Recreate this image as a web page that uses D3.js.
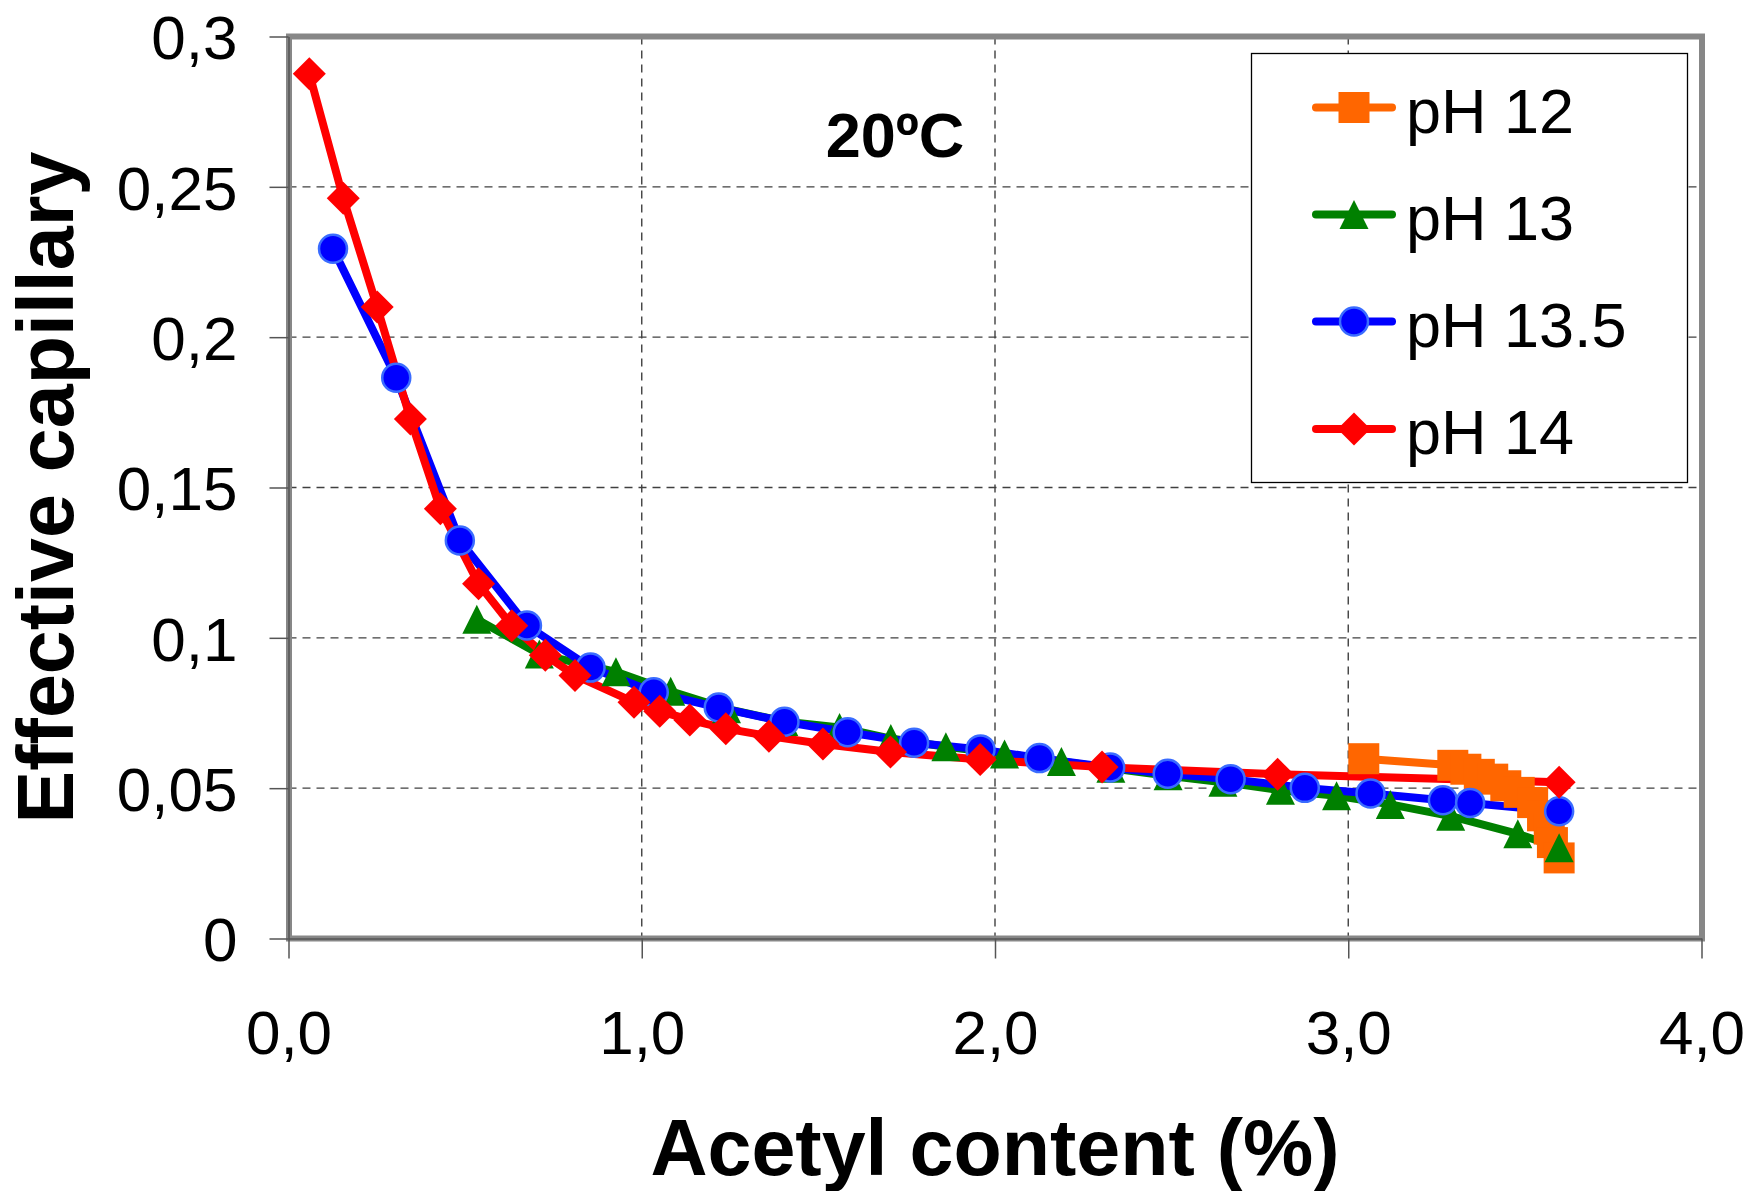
<!DOCTYPE html>
<html>
<head>
<meta charset="utf-8">
<script src="https://cdn.jsdelivr.net/npm/d3@7"></script>
<style>
  html, body { margin: 0; padding: 0; background: #fff; }
  svg { display: block; }
  text { font-family: "Liberation Sans", Arial, sans-serif; }
</style>
</head>
<body>
<svg id="chart" width="1752" height="1191"></svg>
<script>
// ---------------- data ----------------
const seriesNames = ["pH 12", "pH 13", "pH 13.5", "pH 14"];

const ph12X = [3.044, 3.296, 3.333, 3.371, 3.409, 3.446, 3.484, 3.522, 3.550, 3.569, 3.578, 3.597];
const ph12Y = [0.0598, 0.0576, 0.0563, 0.0546, 0.0530, 0.0508, 0.0486, 0.0452, 0.0408, 0.0364, 0.0319, 0.0268];

const ph13X = [0.533, 0.710, 0.927, 1.082, 1.240, 1.402, 1.560, 1.705, 1.861, 2.027, 2.188, 2.328, 2.490, 2.645, 2.808, 2.967, 3.119, 3.290, 3.480, 3.597];
const ph13Y = [0.1062, 0.0946, 0.0887, 0.0822, 0.0764, 0.0722, 0.0702, 0.0665, 0.0638, 0.0614, 0.0589, 0.0566, 0.0541, 0.0520, 0.0493, 0.0475, 0.0446, 0.0407, 0.0348, 0.0302];

const ph135X = [0.126, 0.305, 0.485, 0.675, 0.855, 1.034, 1.218, 1.404, 1.583, 1.771, 1.959, 2.126, 2.326, 2.489, 2.667, 2.877, 3.063, 3.268, 3.345, 3.597];
const ph135Y = [0.2294, 0.1865, 0.1324, 0.1041, 0.0901, 0.0819, 0.0768, 0.0721, 0.0686, 0.0651, 0.0629, 0.0600, 0.0569, 0.0548, 0.0530, 0.0501, 0.0482, 0.0460, 0.0451, 0.0423];

const ph14X = [0.059, 0.155, 0.251, 0.345, 0.430, 0.538, 0.632, 0.727, 0.811, 0.978, 1.051, 1.136, 1.238, 1.360, 1.513, 1.704, 1.958, 2.303, 2.800, 3.597];
const ph14Y = [0.2876, 0.2462, 0.2100, 0.1728, 0.1429, 0.1180, 0.1040, 0.0942, 0.0875, 0.0786, 0.0756, 0.0727, 0.0698, 0.0673, 0.0647, 0.0620, 0.0595, 0.0570, 0.0546, 0.0520];

const xTicks = [0, 1, 2, 3, 4];
const xTickLabels = ["0,0", "1,0", "2,0", "3,0", "4,0"];
const yTicks = [0, 0.05, 0.1, 0.15, 0.2, 0.25, 0.3];
const yTickLabels = ["0", "0,05", "0,1", "0,15", "0,2", "0,25", "0,3"];

const xTitle = "Acetyl content (%)";
const yTitle = "Effective capillary";
const annotation = "20ºC";

// ---------------- layout / style ----------------
const L = 288.5, R = 1701.5, T = 36.5, B = 938.5;
const colors = ["#ff6600", "#008000", "#0000ff", "#ff0000"];
const shapes = ["square", "triangle", "circle", "diamond"];
const FONT = '"Liberation Sans", Arial, sans-serif';

const series = seriesNames.map((name, i) => {
  const xs = [ph12X, ph13X, ph135X, ph14X][i];
  const ys = [ph12Y, ph13Y, ph135Y, ph14Y][i];
  return { name, color: colors[i], shape: shapes[i], points: xs.map((x, j) => ({ x, y: ys[j] })) };
});

const svg = d3.select("#chart");
svg.append("rect").attr("width", 1752).attr("height", 1191).attr("fill", "#fff");

const x = d3.scaleLinear().domain([0, 4]).range([L, R]);
const y = d3.scaleLinear().domain([0, 0.3]).range([B, T]);

// gridlines
const grid = svg.append("g");
grid.selectAll("line.h").data(yTicks.filter(v => v > 0 && v < 0.3)).join("line")
  .attr("x1", L).attr("x2", R).attr("y1", d => y(d)).attr("y2", d => y(d))
  .attr("stroke", "#404040").attr("stroke-width", 1.4).attr("stroke-dasharray", "8,6");
grid.selectAll("line.v").data(xTicks.filter(v => v > 0 && v < 4)).join("line")
  .attr("y1", T).attr("y2", B).attr("x1", d => x(d)).attr("x2", d => x(d))
  .attr("stroke", "#404040").attr("stroke-width", 1.4).attr("stroke-dasharray", "8,6");

// plot border
svg.append("rect").attr("x", L + 0.5).attr("y", T).attr("width", R - L).attr("height", B - T)
  .attr("fill", "none").attr("stroke", "#878787").attr("stroke-width", 6);

// axes
const yAxis = d3.axisLeft(y).tickValues(yTicks).tickFormat((d, i) => yTickLabels[i])
  .tickSize(19).tickSizeOuter(0).tickPadding(32);
const gy = svg.append("g").attr("transform", `translate(${L},0)`).call(yAxis);
const xAxis = d3.axisBottom(x).tickValues(xTicks).tickFormat((d, i) => xTickLabels[i])
  .tickSize(20).tickSizeOuter(0).tickPadding(51);
const gx = svg.append("g").attr("transform", `translate(0,${B})`).call(xAxis);
[gx, gy].forEach(g => {
  g.select(".domain").attr("stroke", "#555").attr("stroke-width", 1.5);
  g.selectAll(".tick line").attr("stroke", "#555").attr("stroke-width", 1.5);
  g.selectAll(".tick text").attr("font-family", FONT).attr("font-size", 62).attr("fill", "#000");
});
gy.selectAll(".tick text").attr("dy", "0.36em");

// marker path generator
function markerPath(shape) {
  if (shape === "square") { const h = 15.5; return `M${-h},${-h}H${h}V${h}H${-h}Z`; }
  if (shape === "triangle") { const w = 14.5, h = 14.5; return `M0,${-h}L${w},${h}L${-w},${h}Z`; }
  if (shape === "diamond") { const h = 16.5; return `M0,${-h}L${h},0L0,${h}L${-h},0Z`; }
  return null;
}
function drawMarker(g, shape, color, cx, cy) {
  if (shape === "circle") {
    g.append("circle").attr("cx", cx).attr("cy", cy).attr("r", 14)
      .attr("fill", color).attr("stroke", "#3a6cff").attr("stroke-width", 2.5);
  } else {
    g.append("path").attr("d", markerPath(shape)).attr("transform", `translate(${cx},${cy})`)
      .attr("fill", color);
  }
}

// lines (all series first)
const line = d3.line().x(d => x(d.x)).y(d => y(d.y));
const linesG = svg.append("g");
series.forEach(s => {
  linesG.append("path").datum(s.points).attr("d", line)
    .attr("fill", "none").attr("stroke", s.color).attr("stroke-width", 8)
    .attr("stroke-linejoin", "round").attr("stroke-linecap", "round");
});
// markers
const marksG = svg.append("g");
series.forEach(s => {
  s.points.forEach(p => drawMarker(marksG, s.shape, s.color, x(p.x), y(p.y)));
});

// legend
const lg = svg.append("g");
lg.append("rect").attr("x", 1251.5).attr("y", 53.5).attr("width", 436).attr("height", 429)
  .attr("fill", "#fff").attr("stroke", "#000").attr("stroke-width", 1.3);
const rowY = [107.5, 214.5, 321.5, 429];
series.forEach((s, i) => {
  const cy = rowY[i];
  lg.append("line").attr("x1", 1316).attr("x2", 1392).attr("y1", cy).attr("y2", cy)
    .attr("stroke", s.color).attr("stroke-width", 8).attr("stroke-linecap", "round");
  drawMarker(lg, s.shape, s.color, 1354, cy);
  lg.append("text").attr("x", 1406).attr("y", cy + 25).attr("font-family", FONT)
    .attr("font-size", 63).attr("fill", "#000").text(s.name);
});

// annotation
svg.append("text").attr("x", 895).attr("y", 157).attr("text-anchor", "middle")
  .attr("font-family", FONT).attr("font-size", 63).attr("font-weight", "bold").text(annotation);

// axis titles
svg.append("text").attr("x", (L + R) / 2).attr("y", 1175).attr("text-anchor", "middle")
  .attr("font-family", FONT).attr("font-size", 79).attr("font-weight", "bold").text(xTitle);
svg.append("text").attr("transform", `translate(73,${(T + B) / 2}) rotate(-90)`)
  .attr("text-anchor", "middle").attr("font-family", FONT).attr("font-size", 79)
  .attr("font-weight", "bold").text(yTitle);
</script>
</body>
</html>
